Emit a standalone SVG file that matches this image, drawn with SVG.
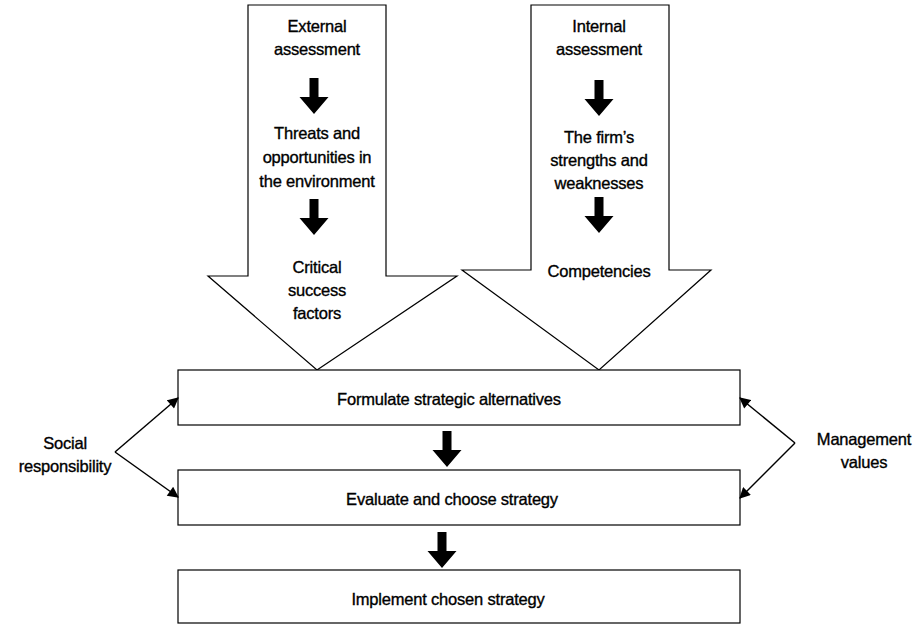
<svg xmlns="http://www.w3.org/2000/svg" width="918" height="625" viewBox="0 0 918 625">
<style>
.shape{fill:#fff;stroke:#000;stroke-width:1.2}
.blk{fill:#000;stroke:none}
.t{font-family:"Liberation Sans",Arial,sans-serif;font-size:16.5px;fill:#000;stroke:#000;stroke-width:0.35;text-anchor:middle;letter-spacing:-0.2px}
.ln{fill:none;stroke:#000;stroke-width:1.5}
</style>
<defs>
<marker id="ah" viewBox="0 0 10 10" refX="9" refY="5" markerWidth="12" markerHeight="11" markerUnits="userSpaceOnUse" orient="auto"><path d="M0,0 L10,5 L0,10 z" fill="#000"/></marker>
<path id="sa" d="M-4.5,0 H4.5 V19 H14.5 L0,36 L-14.5,19 H-4.5 Z"/>
</defs>
<rect width="918" height="625" fill="#fff"/>
<g id="external">
<path class="shape" d="M248,5 H386 V276 H457 L317,370 L208,276 L248,276 Z"/>
<text class="t" x="317" y="32">External</text>
<text class="t" x="317" y="55">assessment</text>
<use href="#sa" class="blk" x="314" y="78"/>
<text class="t" x="317" y="139">Threats and</text>
<text class="t" x="317" y="163">opportunities in</text>
<text class="t" x="317" y="187">the environment</text>
<use href="#sa" class="blk" x="314" y="199"/>
<text class="t" x="317" y="273">Critical</text>
<text class="t" x="317" y="296">success</text>
<text class="t" x="317" y="319">factors</text>
</g>
<g id="internal">
<path class="shape" d="M531,5 H669 V270 H711 L599,370 L462,270 L531,270 Z"/>
<text class="t" x="599" y="32">Internal</text>
<text class="t" x="599" y="55">assessment</text>
<use href="#sa" class="blk" x="599" y="80"/>
<text class="t" x="599" y="143">The firm’s</text>
<text class="t" x="599" y="166">strengths and</text>
<text class="t" x="599" y="189">weaknesses</text>
<use href="#sa" class="blk" x="599" y="197"/>
<text class="t" x="599" y="277">Competencies</text>
</g>
<g id="formulate">
<rect class="shape" x="178" y="370" width="562" height="55"/>
<text class="t" x="449" y="405">Formulate strategic alternatives</text>
</g>
<g id="evaluate">
<rect class="shape" x="178" y="470" width="562" height="55"/>
<text class="t" x="452" y="505">Evaluate and choose strategy</text>
</g>
<g id="implement">
<rect class="shape" x="178" y="570" width="562" height="53"/>
<text class="t" x="448" y="605">Implement chosen strategy</text>
</g>
<g id="social">
<text class="t" x="65" y="449">Social</text>
<text class="t" x="65" y="472">responsibility</text>
</g>
<g id="management">
<text class="t" x="864" y="445">Management</text>
<text class="t" x="864" y="468">values</text>
</g>
<g id="connectors">
<use href="#sa" class="blk" x="447" y="431"/>
<use href="#sa" class="blk" x="442" y="532"/>
<path class="ln" d="M115,452 L178,398" marker-end="url(#ah)"/>
<path class="ln" d="M115,452 L178,497" marker-end="url(#ah)"/>
<path class="ln" d="M795,443 L740,398" marker-end="url(#ah)"/>
<path class="ln" d="M795,443 L740,498" marker-end="url(#ah)"/>
</g>
</svg>
